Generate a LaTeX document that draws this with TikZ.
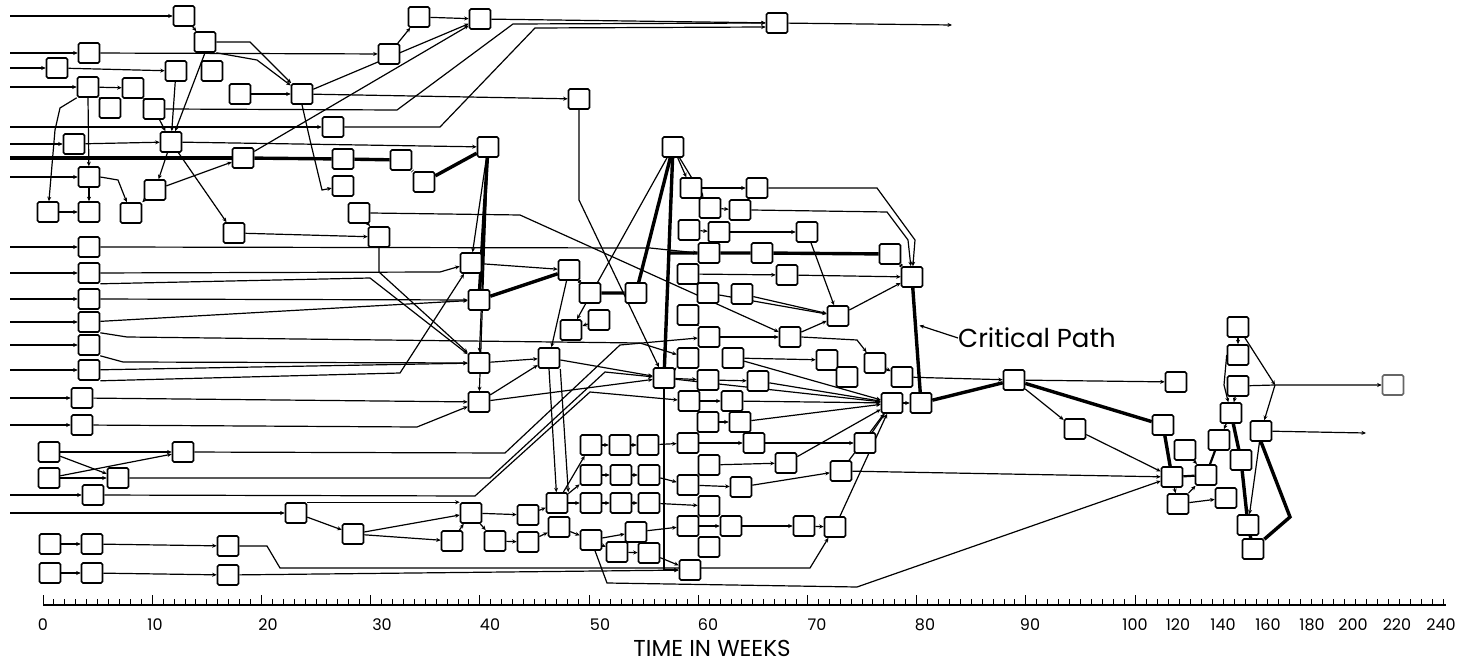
\documentclass[tikz,border=0pt]{standalone}
\usepackage{fontspec}
\setmainfont{Poppins}
\usetikzlibrary{arrows.meta,calc}
\pgfdeclarelayer{edges}
\pgfsetlayers{edges,main}
\tikzset{
  act/.style={draw, fill=white, line width=1.6pt, minimum width=21pt, minimum height=20pt, inner sep=0pt, rounded corners=1.5pt},
  link/.style={line width=1.2pt, -{Stealth[length=4.5pt,width=4pt]}},
  crit/.style={line width=3.4pt},
  tick/.style={line width=0.9pt},
  wk/.style={font=\fontsize{16}{16}\selectfont, inner sep=0pt},
}

\begin{document}
\begin{tikzpicture}[x=1pt,y=-1pt]
\useasboundingbox (0,0) rectangle (1457,663);

% top left group
\node[act] (b1) at (184,16) {};
\node[act] (b2) at (205,42) {};
\node[act] (b3) at (89,53) {};
\node[act] (b4) at (57,68) {};
\node[act] (b5) at (176,71) {};
\node[act] (b6) at (212,71) {};
\node[act] (b7) at (88,87) {};
\node[act] (b8) at (133,88) {};
\node[act] (b9) at (110,108) {};
\node[act] (b10) at (154,109) {};
\node[act] (b11) at (240,94) {};
\node[act] (b12) at (302,94) {};
\node[act] (b13) at (74,144) {};
\node[act] (b14) at (171,142) {};
\node[act] (b15) at (243,158) {};
\node[act] (b16) at (89,177) {};
\node[act] (b17) at (155,190) {};
\node[act] (b18) at (48,212) {};
\node[act] (b19) at (89,212) {};
\node[act] (b20) at (131,213) {};
\node[act] (b21) at (234,233) {};
\node[act] (b22) at (389,54) {};
\node[act] (b23) at (419,17) {};
\node[act] (b24) at (480,19) {};
\node[act] (b25) at (777,23) {};
\node[act] (b26) at (579,99) {};
\node[act] (b27) at (333,127) {};
\node[act] (b28) at (343,159) {};
\node[act] (b29) at (401,160) {};
\node[act] (b30) at (424,182) {};
\node[act] (b31) at (343,186) {};
\node[act] (b32) at (488,147) {};
\node[act] (b33) at (359,213) {};
\node[act] (b34) at (379,237) {};
\node[act] (b35) at (673,147) {};

% left column
\node[act] (b40) at (89,247) {};
\node[act] (b41) at (89,273) {};
\node[act] (b42) at (89,299) {};
\node[act] (b43) at (89,322) {};
\node[act] (b44) at (89,345) {};
\node[act] (b45) at (89,370) {};
\node[act] (b46) at (82,398) {};
\node[act] (b47) at (82,425) {};

% lower left group
\node[act] (b48) at (49,452) {};
\node[act] (b49) at (49,478) {};
\node[act] (b50) at (183,452) {};
\node[act] (b51) at (118,478) {};
\node[act] (b52) at (93,495) {};
\node[act] (b53) at (296,513) {};
\node[act] (b54) at (353,534) {};
\node[act] (b55) at (471,513) {};
\node[act] (b56) at (452,541) {};
\node[act] (b57) at (50,544) {};
\node[act] (b58) at (92,544) {};
\node[act] (b59) at (228,546) {};
\node[act] (b60) at (50,573) {};
\node[act] (b61) at (92,573) {};
\node[act] (b62) at (228,575) {};

% middle group
\node[act] (c1) at (471,263) {};
\node[act] (c2) at (479,300) {};
\node[act] (c3) at (479,363) {};
\node[act] (c4) at (479,402) {};
\node[act] (c5) at (569,270) {};
\node[act] (c6) at (590,293) {};
\node[act] (c7) at (636,293) {};
\node[act] (c8) at (599,320) {};
\node[act] (c9) at (571,330) {};
\node[act] (c10) at (549,358) {};
\node[act] (c11) at (664,378) {};

% stacked columns near week 58
\node[act] (m1) at (691,188) {};
\node[act] (m2) at (689,230) {};
\node[act] (m3) at (688,274) {};
\node[act] (m4) at (688,315) {};
\node[act] (m5) at (688,358) {};
\node[act] (m6) at (689,401) {};
\node[act] (m7) at (688,443) {};
\node[act] (m8) at (688,485) {};
\node[act] (m9) at (688,526) {};
\node[act] (m10) at (690,570) {};
\node[act] (k1) at (710,208) {};
\node[act] (k2) at (709,253) {};
\node[act] (k3) at (708,293) {};
\node[act] (k4) at (709,337) {};
\node[act] (k5) at (708,380) {};
\node[act] (k6) at (708,422) {};
\node[act] (k7) at (709,465) {};
\node[act] (k8) at (709,506) {};
\node[act] (k9) at (709,547) {};
\node[act] (j1) at (740,210) {};
\node[act] (j2) at (719,232) {};
\node[act] (j3) at (742,294) {};
\node[act] (j4) at (733,358) {};
\node[act] (j5) at (732,401) {};
\node[act] (j6) at (740,422) {};
\node[act] (j7) at (754,443) {};
\node[act] (j8) at (741,487) {};
\node[act] (j9) at (731,526) {};

% right of the columns
\node[act] (o1) at (757,188) {};
\node[act] (o2) at (807,232) {};
\node[act] (o3) at (762,253) {};
\node[act] (o4) at (890,254) {};
\node[act] (o5) at (787,275) {};
\node[act] (o6) at (912,277) {};
\node[act] (o7) at (838,316) {};
\node[act] (o8) at (790,337) {};
\node[act] (o9) at (827,360) {};
\node[act] (o10) at (847,377) {};
\node[act] (o11) at (875,363) {};
\node[act] (o12) at (902,377) {};
\node[act] (o13) at (758,381) {};
\node[act] (o14) at (892,403) {};
\node[act] (o15) at (921,403) {};
\node[act] (o16) at (865,443) {};
\node[act] (o17) at (786,463) {};
\node[act] (o18) at (841,471) {};
\node[act] (o19) at (804,526) {};
\node[act] (o20) at (835,527) {};

% lower grid
\node[act] (g1) at (591,445) {};
\node[act] (g2) at (620,445) {};
\node[act] (g3) at (648,445) {};
\node[act] (g4) at (591,475) {};
\node[act] (g5) at (621,475) {};
\node[act] (g6) at (649,475) {};
\node[act] (g7) at (557,503) {};
\node[act] (g8) at (591,503) {};
\node[act] (g9) at (621,503) {};
\node[act] (g10) at (649,503) {};
\node[act] (g11) at (528,515) {};
\node[act] (g12) at (495,541) {};
\node[act] (g13) at (528,542) {};
\node[act] (g14) at (559,527) {};
\node[act] (g15) at (591,540) {};
\node[act] (g16) at (636,532) {};
\node[act] (g17) at (617,552) {};
\node[act] (g18) at (649,553) {};

% right group
\node[act] (r1) at (1014,380) {};
\node[act] (r2) at (1176,382) {};
\node[act] (r3) at (1075,429) {};
\node[act] (r4) at (1163,425) {};
\node[act] (r5) at (1185,450) {};
\node[act] (r6) at (1172,477) {};
\node[act] (r7) at (1206,475) {};
\node[act] (r8) at (1178,504) {};
\node[act] (r9) at (1226,498) {};
\node[act] (r10) at (1219,440) {};
\node[act] (r11) at (1241,460) {};
\node[act] (r12) at (1238,327) {};
\node[act] (r13) at (1238,355) {};
\node[act] (r14) at (1238,386) {};
\node[act] (r15) at (1231,413) {};
\node[act] (r16) at (1261,431) {};
\node[act] (r17) at (1248,525) {};
\node[act] (r18) at (1253,549) {};
\node[act, draw=black!60] (r19) at (1393,385) {};

% free ends
\coordinate (e1) at (952,25);
\coordinate (e2) at (1366,433);
\coordinate (jn) at (1275,385);
\coordinate (cj) at (669,253);

\begin{pgfonlayer}{edges}
% lines coming in from the left margin
\foreach \n/\y in {b1/16,b3/53,b4/68,b7/87,b27/127,b13/144,b16/177,b40/247,b41/273,b42/299,b43/322,b44/345,b45/370,b46/398,b47/425,b52/495,b53/513}
  \draw[link] (10,\y) coordinate (f-\n) -- (\n);
\coordinate (f-b15) at (10,158);
\draw[crit] (f-b15) -- (b15);

% top left
\draw[link] (b1) -- (b2);
\draw[link] (b2.east) -- (250,42) -- (b12);
\draw[link] (b2.south east) -- (257,60) -- (b12);
\draw[link] (b2.south) -- (b14);
\draw[link] (b5) -- (b14);
\draw[link] (b3) -- (b22);
\draw[link] (b4) -- (b5);
\draw[link] (b7) -- (b8);
\draw[link] (b7) -- (b9);
\draw[link] (b8) -- (b10);
\draw[link] (b10) -- (b14);
\draw[link] (b7.south) -- (b16);
\draw[link] (b7.south west) -- (60,108) -- (55,130) -- (b18);
\draw[link] (b13) -- (b14);
\draw[link] (b14) -- (b32);
\draw[link] (b14) -- (b17);
\draw[link] (b14) -- (b21);
\draw[link] (b17) -- (b15);
\draw[link] (b16) -- (b19);
\draw[link] (b18) -- (b19);
\draw[link] (b16.east) -- (118,180) -- (b20);
\draw[link] (b17) -- (b20);
\draw[link] (b10.east) -- (397,110) -- (513,24) -- (b25.west);
\draw[link] (b27) -- (440,127) -- (535,28) -- ($(b25.west)+(0,4)$);
\draw[link] (b24) -- (b25);
\draw[link] (b23) -- (b24);
\draw[link] (b22) -- (b23);
\draw[link] (b12) -- (b24);
\draw[link] (b15) -- (b24);
\draw[link] (b11) -- (b12);
\draw[link] (b12) -- (b26);
\draw[link] (b12.south) -- (310,140) -- (322,190) -- (b31);
\draw[link] (b25) -- (e1);
\draw[crit] (b15) -- (b28) -- (b29) -- (b30) -- (b32);
\draw[link] (b26.south) -- (579,200) -- (c11);
\draw[link] (b33.east) -- (520,215) -- (o8);
\draw[link] (b33) -- (b34);
\draw[link] (b21) -- (b34);
\draw[link] (b34.south) -- (379,272) -- (c3);

% fan below week 40
\draw[crit] (b32) -- (c2);
\draw[link] (b32) -- (c1);
\draw[link] (b32) -- (c3);
\draw[link] (b32) -- (c4);

% left column
\draw[link] (b40.east) -- (650,248) -- (k2.west);
\draw[link] (b41) -- (440,272) -- (c1);
\draw[link] (b41.south east) -- (370,278) -- (c3);
\draw[link] (b42) -- (c2);
\draw[link] (b43) -- (c2);
\draw[link] (b43.south east) -- (127,337) -- (640,343) -- (m5);
\draw[link] (b44.south east) -- (123,362) -- (c3);
\draw[link] (b45) -- (c3);
\draw[link] (b45.south east) -- (400,373) -- (c1);
\draw[link] (b46) -- (c4);
\draw[link] (b47) -- (417,427) -- (c4);

% middle
\draw[crit] (c2) -- (c5) -- (c6) -- (c7) -- (b35);
\draw[crit] (b35) -- (c11);
\draw[link] (c1) -- (c5);
\draw[link] (c5) -- (c10);
\draw[link] (c8) -- (c9);
\draw[link] (c3) -- (c10);
\draw[link] (c4) -- (c10);
\draw[link] (c10) -- (c11);
\draw[link] (c4) -- (c11);
\draw[link] (b35) -- (c9);
\draw[link] (b35) -- (m1);
\draw[link] (b35) -- (k1);
\draw[link] (c11.south) |- (m10);

% critical path
\draw[crit] (cj) -- (k2) -- (o3) -- (o4) -- (o6) -- (o15) -- (r1) -- (r4) -- (r6);

% columns to the right
\draw[link] (m1) -- (o1);
\draw[link] (o1) -- (877,188) -- (915,240) -- (o6);
\draw[link] (k1) -- (j1);
\draw[link] (j1.east) -- (887,212) -- (908,240) -- (o6);
\draw[link] (m2) -- (j2);
\draw[link] (j2) -- (o2);
\draw[link] (o2) -- (o7);
\draw[link] (m3) -- (o5);
\draw[link] (o5) -- (o6);
\draw[link] (m3) -- (k3);
\draw[link] (k3) -- (o7);
\draw[link] (j3) -- (o7);
\draw[link] (o8) -- (o7);
\draw[link] (o7) -- (o6);
\draw[link] (m4) -- (k4);
\draw[link] (k4) -- (o8);
\draw[link] (o8.east) -- (857,340) -- (o11);
\draw[link] (j4) -- (o9);
\draw[link] (o9) -- (o10);
\draw[link] (o11) -- (o12);
\draw[link] (o12) -- (r1);
\draw[link] (c11) -- (m5);
\draw[link] (c11) -- (k5);
\draw[link] (k5) -- (o13);
\draw[link] (m6) -- (j5);
\draw[link] (k6) -- (j6);
\draw[link] (m7) -- (j7);
\draw[link] (k7) -- (o17);
\draw[link] (m8) -- (j8);
\draw[link] (j8) -- (o18);
\draw[link] (m9) -- (j9);
\draw[link] (j9) -- (o19);
\draw[link] (o19) -- (o20);
\foreach \n in {c11,j4,o13,j5,j6,o17,o18,o16,o20}
  \draw[link] (\n) -- (o14);
\draw[link] (o14) -- (o15);
\draw[link] (j7) -- (o16);
\draw[link] (o18) -- (r6);

% lower grid
\draw[link] (c10.south) -- (g7);
\draw[link] (c10.south east) -- (g7.north east);
\draw[link] (g7) -- (g1);
\draw[link] (g7) -- (g4);
\draw[link] (g7) -- (g8);
\draw[link] (g1) -- (g2);
\draw[link] (g2) -- (g3);
\draw[link] (g3) -- (m7);
\draw[link] (g4) -- (g5);
\draw[link] (g5) -- (g6);
\draw[link] (g6) -- (m8);
\draw[link] (g8) -- (g9);
\draw[link] (g9) -- (g10);
\draw[link] (g10) -- (k8);
\draw[link] (b55) -- (g11);
\draw[link] (g11) -- (g7);
\draw[link] (b55) -- (g12);
\draw[link] (g12) -- (g13);
\draw[link] (g13) -- (g14);
\draw[link] (g14) -- (g15);
\draw[link] (g15) -- (g16);
\draw[link] (g16) -- (m9);
\draw[link] (g15) -- (g17);
\draw[link] (g17) -- (g18);
\draw[link] (g18) -- (m10);
\draw[link] (g15) -- (607,583) -- (857,587) -- (r6);

% lower left
\draw[link] (b48) -- (b50);
\draw[link] (b48) -- (b51);
\draw[link] (b49) -- (b50);
\draw[link] (b49) -- (b51);
\draw[link] (b50) -- (505,453) -- (620,345) -- (k4);
\draw[link] (b51) -- (490,478) -- (605,372) -- (c11);
\draw[link] (b52) -- (475,496) -- (590,392) -- (m6);
\draw[link] (b53) -- (b54);
\draw[link] (b53.north east) -- (b55.north west);
\draw[link] (b54) -- (b55);
\draw[link] (b54) -- (b56);
\draw[link] (b56) -- (b55);
\draw[link] (b57) -- (b58);
\draw[link] (b58) -- (b59);
\draw[link] (b59.east) -- (267,546) -- (280,568) -- (810,568) -- (o20);
\draw[link] (b60) -- (b61);
\draw[link] (b61) -- (b62);
\draw[link] (b62) -- (m10);

% right group
\draw[link] (r1) -- (r2);
\draw[link] (r1) -- (r3);
\draw[link] (r3) -- (r6);
\draw[link] (r6) -- (r8);
\draw[link] (r5) -- (r7);
\draw[link] (r8) -- (r7);
\draw[link] (r8) -- (r9);
\draw[line width=2.2pt] (r6) -- (r7) -- (r10);
\draw[link] (r12) -- (r13);
\draw[link] (r13.west) -- (1224,385) -- (r15);
\draw[link] (r14) -- (r15);
\draw[link] (r15) -- (r10);
\draw[crit] (r15) -- (r11) -- (r17);
\draw[crit] (r17) -- (r18);
\draw[link] (r12) -- (jn);
\draw[link] (r14) -- (jn) -- (r19);
\draw[link] (jn) -- (r16);
\draw[link] (r16) -- (e2);
\draw[crit] (r16.south) -- (1290,517) -- (r18);
\draw[link] (r16) -- (r17);
\end{pgfonlayer}

% label and time scale
\node[font=\fontsize{26}{26}\selectfont, anchor=west, inner sep=0pt] (cp) at (958,338) {Critical Path};
\path (o6) -- (o15) coordinate[pos=0.36] (cpt);
\draw[link] (cp.west) -- ($(cpt)+(4,0)$);

\draw[line width=1.2pt] (43,605) -- (1446,605);
\foreach \i in {0,...,100}
  \draw[tick] ({43+10.92*\i},605) -- ++(0,-6);
\foreach \i in {0,10,...,100}
  \draw[tick] ({43+10.92*\i},605) -- ++(0,-10);
\foreach \i in {1,...,28}
  \draw[tick] ({1135+11*\i},605) -- ++(0,-6);
\foreach \t/\x in {0/43,10/155,20/268,30/382,40/490,50/600,60/708,70/817,80/925,90/1030,100/1135,120/1178,140/1223,160/1268,180/1312,200/1353,220/1397,240/1441}
  \node[wk] (w\t) at (\x,625) {\t};
\node[font=\fontsize{23}{23}\selectfont, inner sep=0pt] (ttl) at (712,648) {TIME IN WEEKS};
\end{tikzpicture}
\end{document}
